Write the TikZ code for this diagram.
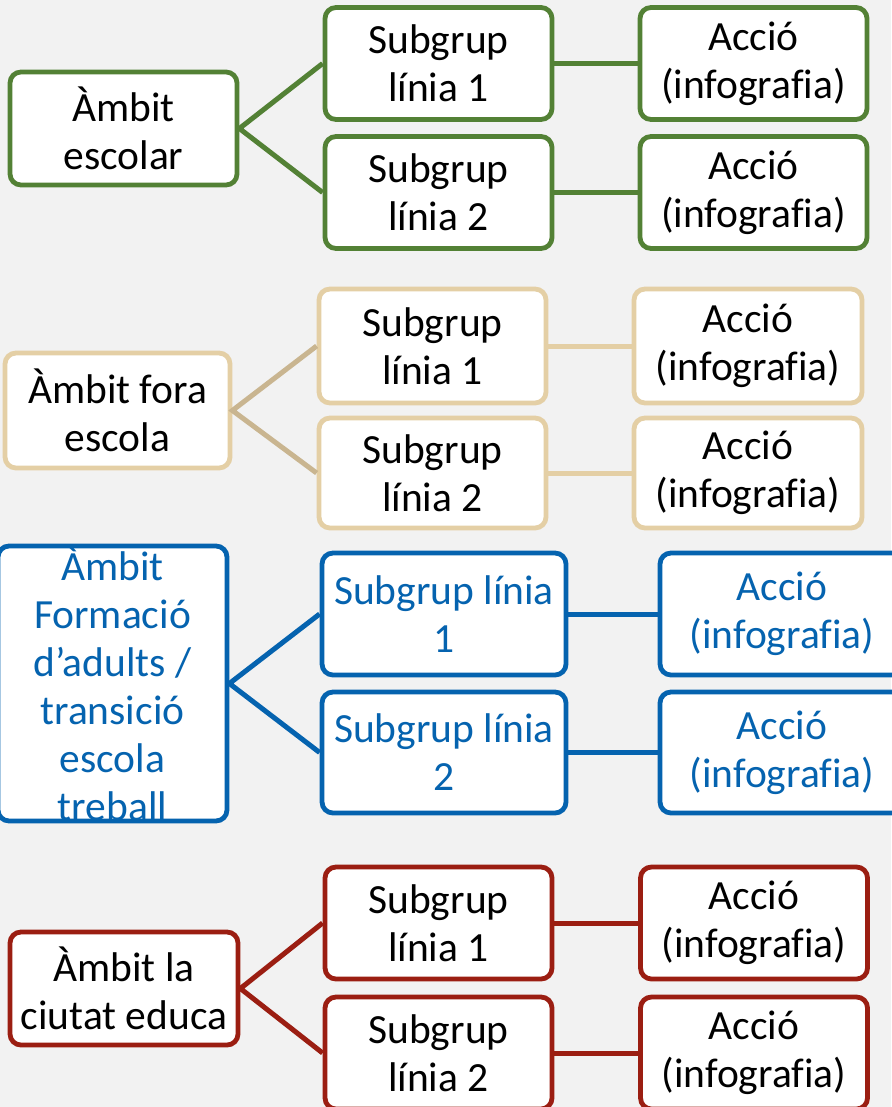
\documentclass[tikz,border=0pt]{standalone}
\usepackage{fontspec}
\setmainfont{Carlito}[Ligatures=NoCommon]
\definecolor{bggray}{HTML}{F2F2F2}
\definecolor{cgreen}{HTML}{538135}
\definecolor{ctanbox}{HTML}{E4CFA5}
\definecolor{ctanline}{HTML}{C9B590}
\definecolor{cblue}{HTML}{0563AF}
\definecolor{cred}{HTML}{9B1E12}
\tikzset{
  box/.style={draw, fill=white, rounded corners=11pt, line width=4.8pt,
    align=center, inner sep=0pt, font=\fontsize{41.5}{48}\selectfont},
  wbox/.style={box, minimum width=227pt, minimum height=112pt},
  link/.style={line width=5pt},
}
\begin{document}
\begin{tikzpicture}[x=1pt,y=-1pt]
\useasboundingbox (0,0) rectangle (891,1107);
\fill[bggray] (0,0) rectangle (891,1107);

% group 1 green
\begin{scope}[every node/.append style={draw=cgreen}]
\node[wbox, minimum height=113pt] (a1) at (123.5,128.5) {Àmbit\\escolar};
\node[wbox] (s1a) at (438.5,63.5) {Subgrup\\línia 1};
\node[wbox] (s1b) at (438.5,192.5) {Subgrup\\línia 2};
\node[wbox] (c1a) at (753.5,63.5) {Acció\\(infografia)};
\node[wbox] (c1b) at (753.5,192.5) {Acció\\(infografia)};
\end{scope}
\draw[link, cgreen] (s1a.west) -- (a1.east) -- (s1b.west);
\draw[link, cgreen] (s1a.east) -- (c1a.west);
\draw[link, cgreen] (s1b.east) -- (c1b.west);

% group 2 tan
\begin{scope}[every node/.append style={draw=ctanbox}]
\node[wbox, minimum width=225pt, minimum height=115pt] (a2) at (117.5,410.5) {Àmbit fora\\escola};
\node[wbox, minimum height=114pt] (s2a) at (432.5,346) {Subgrup\\línia 1};
\node[wbox, minimum height=110pt] (s2b) at (432.5,473) {Subgrup\\línia 2};
\node[wbox, minimum width=228pt, minimum height=114pt] (c2a) at (748,346) {Acció\\(infografia)};
\node[wbox, minimum width=228pt, minimum height=110pt] (c2b) at (748,473) {Acció\\(infografia)};
\end{scope}
\draw[link, ctanline] (s2a.west) -- (a2.east) -- (s2b.west);
\draw[link, ctanbox] (s2a.east) -- (c2a.west);
\draw[link, ctanbox] (s2b.east) -- (c2b.west);

% group 3 blue
\begin{scope}[every node/.append style={draw=cblue, text=cblue}]
\node[box, minimum width=229pt, minimum height=263pt] (a3) at (112.5,683.5) {Àmbit\\Formació\\d’adults /\\transició\\escola\\treball};
\node[box, minimum width=244pt, minimum height=122pt] (s3a) at (444,614) {Subgrup línia\\1};
\node[box, minimum width=244pt, minimum height=121pt] (s3b) at (444,752.5) {Subgrup línia\\2};
\node[box, minimum width=244pt, minimum height=122pt] (c3a) at (782,614) {Acció\\(infografia)};
\node[box, minimum width=244pt, minimum height=121pt] (c3b) at (782,752.5) {Acció\\(infografia)};
\end{scope}
\draw[link, cblue] (s3a.west) -- (a3.east) -- (s3b.west);
\draw[link, cblue] (s3a.east) -- (c3a.west);
\draw[link, cblue] (s3b.east) -- (c3b.west);

% group 4 red
\begin{scope}[every node/.append style={draw=cred}]
\node[wbox, minimum width=228pt, minimum height=113pt] (a4) at (124,988.5) {Àmbit la\\ciutat educa};
\node[wbox] (s4a) at (438.5,923) {Subgrup\\línia 1};
\node[wbox] (s4b) at (438.5,1053) {Subgrup\\línia 2};
\node[wbox] (c4a) at (754,923) {Acció\\(infografia)};
\node[wbox] (c4b) at (754,1053) {Acció\\(infografia)};
\end{scope}
\draw[link, cred] (s4a.west) -- (a4.east) -- (s4b.west);
\draw[link, cred] (s4a.east) -- (c4a.west);
\draw[link, cred] (s4b.east) -- (c4b.west);
\end{tikzpicture}
\end{document}
